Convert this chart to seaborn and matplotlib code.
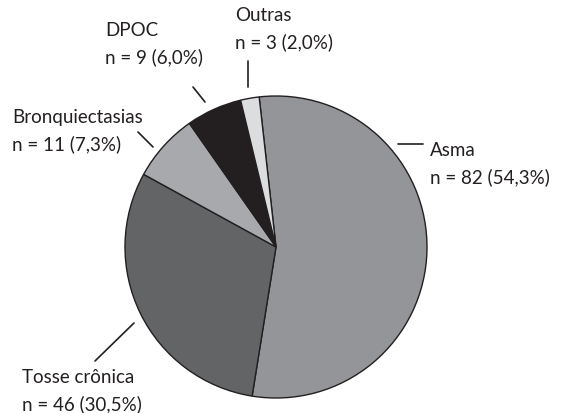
import matplotlib
matplotlib.use("Agg")
import matplotlib.pyplot as plt
import seaborn as sns

# data
categorias = ["Asma", "Tosse crônica", "Bronquiectasias", "DPOC", "Outras"]
n_pacientes = [82, 46, 11, 9, 3]
cores = ["#939598", "#636466", "#a7a9ac", "#231f20", "#dcdddf"]

sns.set_style("white")
plt.rcParams["font.family"] = ["Lato", "DejaVu Sans"]

W, H = 562, 414
fig = plt.figure(figsize=(W / 100, H / 100), dpi=100)
ax = fig.add_axes([0, 0, 1, 1])

# pie in pixel coordinates (y up)
cx, cy, r = 276, H - 248, 151
ax.pie(n_pacientes, colors=cores, startangle=96.4, counterclock=False,
       center=(cx, cy), radius=r, frame=True,
       wedgeprops=dict(edgecolor="#231f20", linewidth=1.0))
ax.set_xlim(0, W)
ax.set_ylim(0, H)
ax.set_aspect("equal")
ax.axis("off")

total = sum(n_pacientes)


def rotulo(i):
    pct = f"{100 * n_pacientes[i] / total:.1f}".replace(".", ",")
    return f"{categorias[i]}\nn = {n_pacientes[i]} ({pct}%)"


# label positions (top-left of text, pixels) and leader lines
layout = {
    "Asma": ((430, 142), ((398, 145), (423, 145))),
    "Tosse crônica": ((22, 369), ((95, 362), (134, 324))),
    "Bronquiectasias": ((12, 109), ((138, 133), (153, 148))),
    "DPOC": ((105, 22), ((193, 88), (205, 103))),
    "Outras": ((235, 7), ((248, 62), (248, 88))),
}

for i, cat in enumerate(categorias):
    (tx, ty), ((x0, y0), (x1, y1)) = layout[cat]
    ax.text(tx, H - ty, rotulo(i), ha="left", va="top", fontsize=13.5,
            color="#231f20", linespacing=1.6)
    ax.plot([x0, x1], [H - y0, H - y1], color="#231f20", lw=1.2)

fig.savefig("out.png", dpi=100)
